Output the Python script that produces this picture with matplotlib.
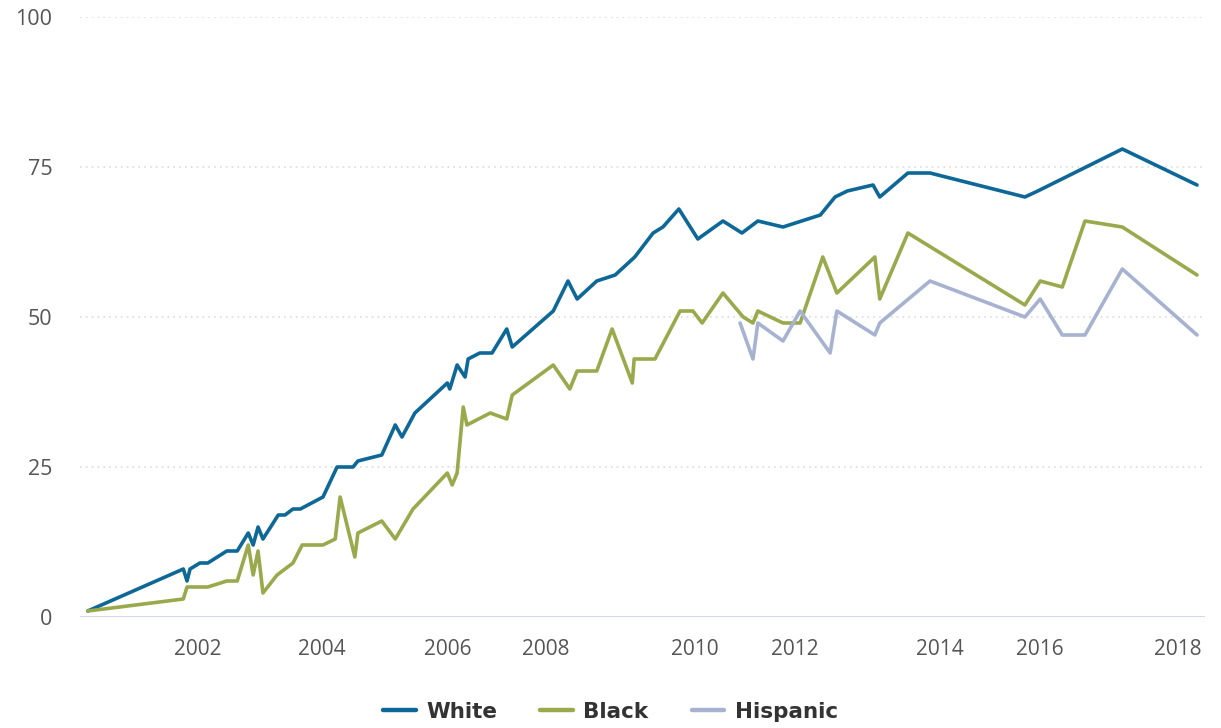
import matplotlib
matplotlib.use("Agg")
import matplotlib.pyplot as plt

# Survey dates (decimal years) and shares (%) for each group
white_dates = [2000.20, 2001.76, 2001.82, 2001.87, 2002.03, 2002.16, 2002.47, 2002.64,
               2002.82, 2002.90, 2002.98, 2003.06, 2003.31, 2003.42, 2003.55, 2003.67,
               2004.04, 2004.27, 2004.53, 2004.61, 2005.00, 2005.22, 2005.33, 2005.54,
               2006.07, 2006.11, 2006.23, 2006.36, 2006.41, 2006.60, 2006.80, 2007.04,
               2007.13, 2007.80, 2008.04, 2008.19, 2008.51, 2008.81, 2009.13, 2009.43,
               2009.59, 2009.85, 2010.16, 2010.57, 2010.88, 2011.14, 2011.55, 2012.16,
               2012.40, 2012.60, 2013.02, 2013.13, 2013.59, 2013.95, 2015.50, 2015.71,
               2017.09, 2018.31]
white_values = [1, 8, 6, 8, 9, 9, 11, 11,
                14, 12, 15, 13, 17, 17, 18, 18,
                20, 25, 25, 26, 27, 32, 30, 34,
                39, 38, 42, 40, 43, 44, 44, 48,
                45, 51, 56, 53, 56, 57, 60, 64,
                65, 68, 63, 66, 64, 66, 65, 67,
                70, 71, 72, 70, 74, 74, 70, 71,
                78, 72]

black_dates = [2000.20, 2001.76, 2001.82, 2002.16, 2002.47, 2002.64, 2002.82, 2002.90,
               2002.98, 2003.06, 2003.29, 2003.55, 2003.70, 2004.04, 2004.24, 2004.32,
               2004.56, 2004.61, 2005.00, 2005.22, 2005.51, 2006.07, 2006.15, 2006.23,
               2006.33, 2006.39, 2006.77, 2007.04, 2007.13, 2007.80, 2008.07, 2008.19,
               2008.51, 2008.76, 2009.09, 2009.12, 2009.46, 2009.87, 2010.08, 2010.23,
               2010.57, 2010.90, 2011.06, 2011.14, 2011.55, 2011.83, 2012.20, 2012.43,
               2013.05, 2013.13, 2013.59, 2015.50, 2015.75, 2016.11, 2016.48, 2017.09,
               2018.31]
black_values = [1, 3, 5, 5, 6, 6, 12, 7,
                11, 4, 7, 9, 12, 12, 13, 20,
                10, 14, 16, 13, 18, 24, 22, 24,
                35, 32, 34, 33, 37, 42, 38, 41,
                41, 48, 39, 43, 43, 51, 51, 49,
                54, 50, 49, 51, 49, 49, 60, 54,
                60, 53, 64, 52, 56, 55, 66, 65,
                57]

hispanic_dates = [2010.85, 2011.06, 2011.14, 2011.55, 2011.83, 2012.32, 2012.43, 2013.05,
                  2013.13, 2013.95, 2015.50, 2015.75, 2016.11, 2016.48, 2017.09, 2018.31]
hispanic_values = [49, 43, 49, 46, 51, 44, 51, 47,
                   49, 56, 50, 53, 47, 47, 58, 47]

# year labels sit on survey dates rather than on 1 January
year_labels = ["2002", "2004", "2006", "2008", "2010", "2012", "2014", "2016", "2018"]
year_tick_dates = [2002.00, 2004.02, 2006.08, 2007.68, 2010.11, 2011.75, 2014.11, 2015.75, 2018.00]
value_ticks = [0, 25, 50, 75, 100]

series = [
    ("White", white_dates, white_values, "#0e6897"),
    ("Black", black_dates, black_values, "#9aa94c"),
    ("Hispanic", hispanic_dates, hispanic_values, "#a6b2d0"),
]

W, H = 1221, 728
fig = plt.figure(figsize=(W / 100, H / 100), dpi=100)
left_px, right_px, top_px, bottom_px = 80, 1205, 17, 617
ax = fig.add_axes([left_px / W, 1 - bottom_px / H,
                   (right_px - left_px) / W, (bottom_px - top_px) / H])

for name, xs, ys, color in series:
    ax.plot(xs, ys, color=color, lw=2.6, label=name, clip_on=False,
            solid_joinstyle="round", solid_capstyle="round", zorder=3)

ax.set_xlim(2000.073, 2018.44)
ax.set_ylim(0, 100)

# dotted horizontal grid, solid baseline
for v in value_ticks[1:]:
    ax.axhline(v, color="#dcdcdc", lw=1.2, ls=(0, (1, 2.5)), zorder=1)
ax.axhline(0, color="#ccd6eb", lw=1.3, zorder=1)

for s in ax.spines.values():
    s.set_visible(False)

ax.set_xticks(year_tick_dates)
ax.set_xticklabels(year_labels)
ax.set_yticks(value_ticks)
ax.set_yticklabels([str(v) for v in value_ticks])
ax.tick_params(axis="both", length=0, labelsize=15, labelcolor="#555555")
ax.tick_params(axis="x", pad=16)
ax.tick_params(axis="y", labelsize=15.5, pad=20)
for lbl in ax.get_xticklabels() + ax.get_yticklabels():
    lbl.set_fontfamily("Open Sans")

leg = fig.legend(loc="center", bbox_to_anchor=(0.5, 1 - 712 / H), ncol=3,
                 frameon=False, handlelength=1.5, handletextpad=0.5,
                 columnspacing=2.0,
                 prop={"family": "DejaVu Sans", "weight": "bold", "size": 15.5})
for t in leg.get_texts():
    t.set_color("#333333")
for h in leg.get_lines():
    h.set_linewidth(3.2)

fig.savefig("out.png", dpi=100, facecolor="white")
